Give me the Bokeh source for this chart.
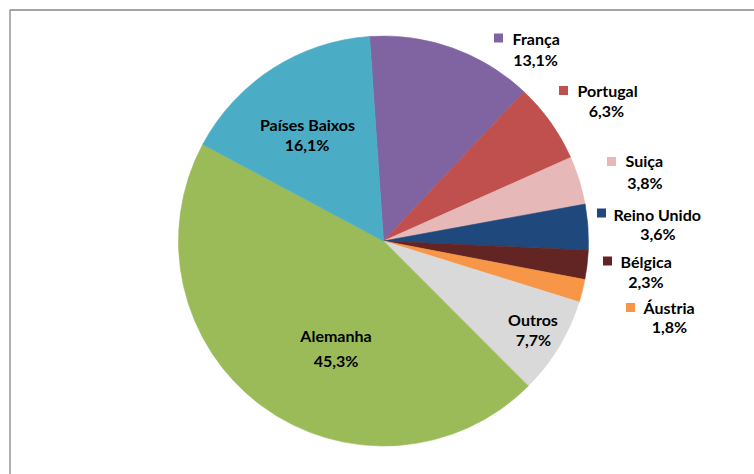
from bokeh.plotting import figure
from bokeh.models import Range1d, ColumnDataSource
from bokeh.embed import file_html
from bokeh.resources import INLINE
from bokeh.core.properties import value
import math

# ---- data ----
countries = ["França", "Portugal", "Suiça", "Reino Unido", "Bélgica", "Áustria", "Outros", "Alemanha", "Países Baixos"]
shares = [13.1, 6.3, 3.8, 3.6, 2.3, 1.8, 7.7, 45.3, 16.1]
pct_labels = ["13,1%", "6,3%", "3,8%", "3,6%", "2,3%", "1,8%", "7,7%", "45,3%", "16,1%"]
colors = ["#8064A2", "#C0504D", "#E6B9B8", "#1F497D", "#632523", "#F79646", "#D9D9D9", "#9BBB59", "#4BACC6"]

# ---- layout / style ----
W, H = 754, 474
def px(x):  # picture x -> data x
    return x
def py(y):  # picture y -> data y
    return H - y

cx, cy, R = px(383), py(240.5), 205
start_deg = -3.9  # clockwise from 12 o'clock

# label layout: (kind, name_x, name_y, pct_x, pct_y, key_x, key_y)
label_pos = [
    ("key", 512, 38, 535, 59, 498, 37.5),
    ("key", 577, 90, 606, 110, 563, 90),
    ("key", 625, 160, 644.5, 182, 611, 161),
    ("key", 613, 213.5, 657.5, 233, 601, 212.5),
    ("key", 620, 261, 645.5, 281, 607, 260.5),
    ("key", 643, 307, 669, 326, 630, 307),
    ("in", 532.5, 319, 533, 339, None, None),
    ("in", 335.5, 335, 335.5, 360, None, None),
    ("in", 307, 124, 306.5, 144, None, None),
]

total = sum(shares)
starts, ends = [], []
acc = start_deg
for s in shares:
    a0 = acc
    a1 = acc + s / total * 360.0
    # bokeh angles: anticlockwise from +x
    starts.append(math.radians(90 - a1))
    ends.append(math.radians(90 - a0))
    acc = a1

src = ColumnDataSource(dict(start=starts, end=ends, color=colors, name=countries, share=shares))

p = figure(width=W, height=H, output_backend="svg", toolbar_location=None,
           x_range=Range1d(0, W), y_range=Range1d(0, H), min_border=0)
p.axis.visible = False
p.grid.visible = False
p.outline_line_color = None
p.background_fill_color = "white"
p.border_fill_color = "white"

# chart area frame (left and top edges visible)
p.line(x=[9.5, 9.5, W + 5], y=[-5, H - 9.5, H - 9.5], line_color="#868686", line_width=1.3)

p.wedge(x=cx, y=cy, radius=R, start_angle="start", end_angle="end",
        fill_color="color", line_color="color", line_width=0.6, source=src)

FONT = value("Lato")
FS = "16px"
for i, (kind, nx, ny, qx, qy, kx, ky) in enumerate(label_pos):
    if kind == "key":
        p.rect(x=[px(kx)], y=[py(ky)], width=9, height=9, fill_color=colors[i], line_color=None)
        p.text(x=[px(nx)], y=[py(ny)], text=[countries[i]], text_font=FONT, text_font_size=FS,
               text_font_style="bold", text_align="left", text_baseline="middle", text_color="#000000")
    else:
        p.text(x=[px(nx)], y=[py(ny)], text=[countries[i]], text_font=FONT, text_font_size=FS,
               text_font_style="bold", text_align="center", text_baseline="middle", text_color="#000000")
    p.text(x=[px(qx)], y=[py(qy)], text=[pct_labels[i]], text_font=FONT, text_font_size=FS,
           text_font_style="bold", text_align="center", text_baseline="middle", text_color="#000000")

open("out.html", "w").write(file_html(p, INLINE))
